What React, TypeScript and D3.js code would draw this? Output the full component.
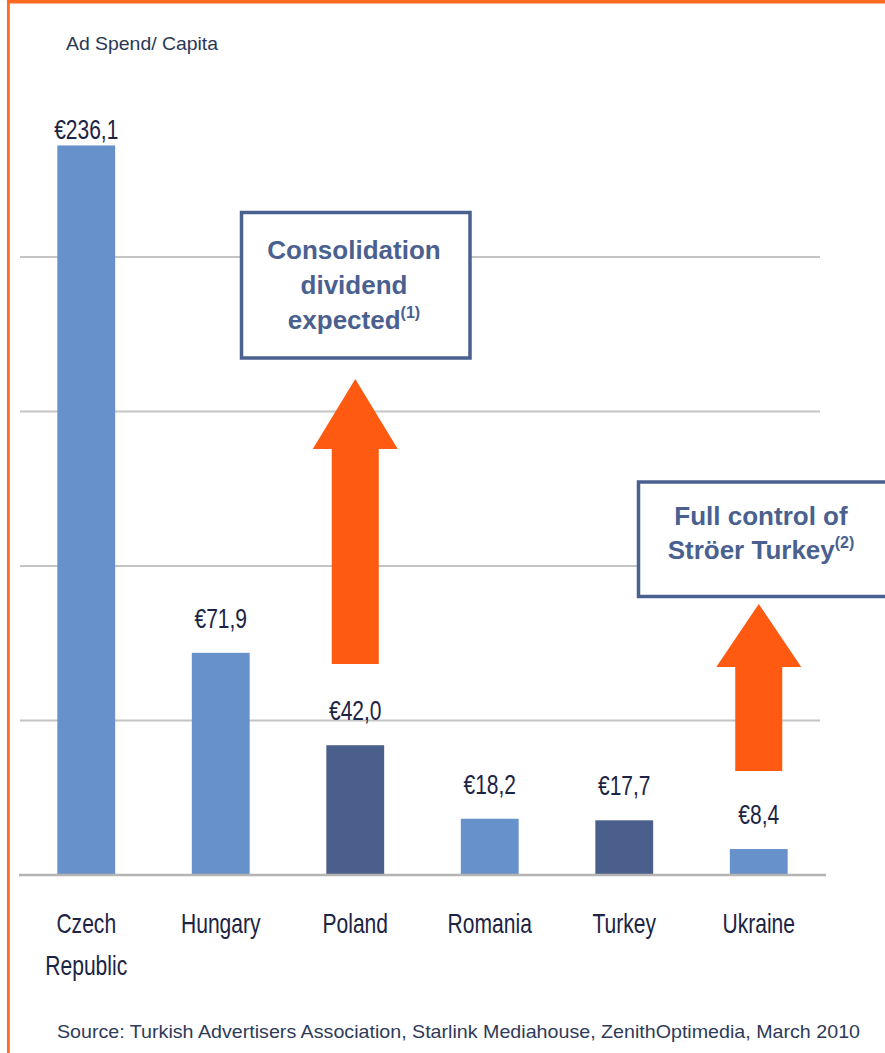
import React from "react";
import * as d3 from "d3";

const categories: string[][] = [["Czech", "Republic"], ["Hungary"], ["Poland"], ["Romania"], ["Turkey"], ["Ukraine"]];
const values: number[] = [236.1, 71.9, 42.0, 18.2, 17.7, 8.4];
const valueLabels: string[] = ["€236,1", "€71,9", "€42,0", "€18,2", "€17,7", "€8,4"];
const stroerMarkets: string[] = ["Poland", "Turkey"];
const gridTicks: number[] = [50, 100, 150, 200];
const titleText = "Ad Spend/ Capita";
const sourceText = "Source: Turkish Advertisers Association, Starlink Mediahouse, ZenithOptimedia, March 2010";

const W = 885;
const H = 1053;
const LIGHT = "#6691CB";
const DARK = "#4A5F8B";
const ORANGE = "#FF5A12";
const BOXBLUE = "#4A6190";
const TEXT = "#1C2444";
const SANS = "'Liberation Sans', Arial, sans-serif";

export default function App() {
  const keys = categories.map((c) => c.join(" "));
  const x = d3.scaleBand<string>().domain(keys).range([19, 826]).paddingInner(0.57).paddingOuter(0.285);
  const y = d3.scaleLinear().domain([0, 250]).range([875, 102.5]);
  const bw = x.bandwidth();
  const cx = (k: string) => (x(k) as number) + bw / 2;

  const arrow = (cat: string, tipY: number, headY: number, bottomY: number) => {
    const c = cx(cat);
    const hw = 42.5;
    const sw = 23.5;
    const p = d3.path();
    p.moveTo(c, tipY);
    p.lineTo(c + hw, headY);
    p.lineTo(c + sw, headY);
    p.lineTo(c + sw, bottomY);
    p.lineTo(c - sw, bottomY);
    p.lineTo(c - sw, headY);
    p.lineTo(c - hw, headY);
    p.closePath();
    return p.toString();
  };

  return (
    <div style={{ position: "absolute", left: 0, top: 0, width: W, height: H, background: "#fff" }}>
      <svg width={W} height={H} viewBox={`0 0 ${W} ${H}`} style={{ display: "block" }}>
        <rect x={0} y={0} width={W} height={H} fill="#fff" />
        {/* frame */}
        <rect x={7} y={0} width={W - 7} height={3.5} fill="#FF6A20" />
        <rect x={7} y={0} width={2.8} height={H} fill="#FF6A20" />

        {/* title */}
        <text x={66} y={50} fontFamily={SANS} fontSize={19} fill="#2A3656" textLength={152} lengthAdjust="spacingAndGlyphs">
          {titleText}
        </text>

        {/* gridlines */}
        {gridTicks.map((t) => (
          <line key={t} x1={20} x2={820} y1={y(t)} y2={y(t)} stroke="#C4C4C4" strokeWidth={2} />
        ))}

        {/* bars */}
        {keys.map((k, i) => (
          <rect
            key={k}
            x={x(k)}
            y={y(values[i])}
            width={bw}
            height={y(0) - y(values[i])}
            fill={stroerMarkets.includes(k) ? DARK : LIGHT}
          />
        ))}

        {/* baseline */}
        <line x1={19} x2={826} y1={y(0)} y2={y(0)} stroke="#B4B4B4" strokeWidth={2.5} />

        {/* value labels */}
        {keys.map((k, i) => (
          <g key={k} transform={`translate(${cx(k)},${Math.max(y(values[i]) - 25, 139)}) scale(0.75,1)`}>
            <text x={0} y={0} textAnchor="middle" fontFamily={SANS} fontSize={28} fill={TEXT}>
              {valueLabels[i]}
            </text>
          </g>
        ))}

        {/* category labels */}
        {keys.map((k, i) => (
          <g key={k} transform={`translate(${cx(k)},933) scale(0.78,1)`}>
            <text textAnchor="middle" fontFamily={SANS} fontSize={27} fill={TEXT}>
              {categories[i].map((line, j) => (
                <tspan key={j} x={0} y={j * 42}>
                  {line}
                </tspan>
              ))}
            </text>
          </g>
        ))}

        {/* arrows */}
        <path d={arrow("Poland", 379, 449, 664)} fill={ORANGE} />
        <path d={arrow("Ukraine", 604, 667, 771)} fill={ORANGE} />

        {/* annotation boxes */}
        <rect x={241.5} y={212.5} width={228.5} height={145.5} fill="#fff" stroke={BOXBLUE} strokeWidth={3.5} />
        <text textAnchor="middle" fontFamily={SANS} fontWeight="bold" fontSize={26} fill={BOXBLUE}>
          <tspan x={354} y={259}>Consolidation</tspan>
          <tspan x={354} y={294}>dividend</tspan>
        </text>
        <text textAnchor="middle" fontFamily={SANS} fontWeight="bold" fontSize={26} fill={BOXBLUE} x={354} y={329}>
          expected
          <tspan fontSize={16} dy={-11}>(1)</tspan>
        </text>

        <rect x={638.5} y={482} width={260} height={114.5} fill="#fff" stroke={BOXBLUE} strokeWidth={3.5} />
        <text textAnchor="middle" fontFamily={SANS} fontWeight="bold" fontSize={26} fill={BOXBLUE} x={761} y={525}>
          Full control of
        </text>
        <text textAnchor="middle" fontFamily={SANS} fontWeight="bold" fontSize={26} fill={BOXBLUE} x={761} y={559}>
          Ströer Turkey
          <tspan fontSize={16} dy={-11}>(2)</tspan>
        </text>

        {/* source */}
        <text x={57} y={1038} fontFamily={SANS} fontSize={19} fill="#2E3A58" textLength={803} lengthAdjust="spacingAndGlyphs">
          {sourceText}
        </text>
      </svg>
    </div>
  );
}
